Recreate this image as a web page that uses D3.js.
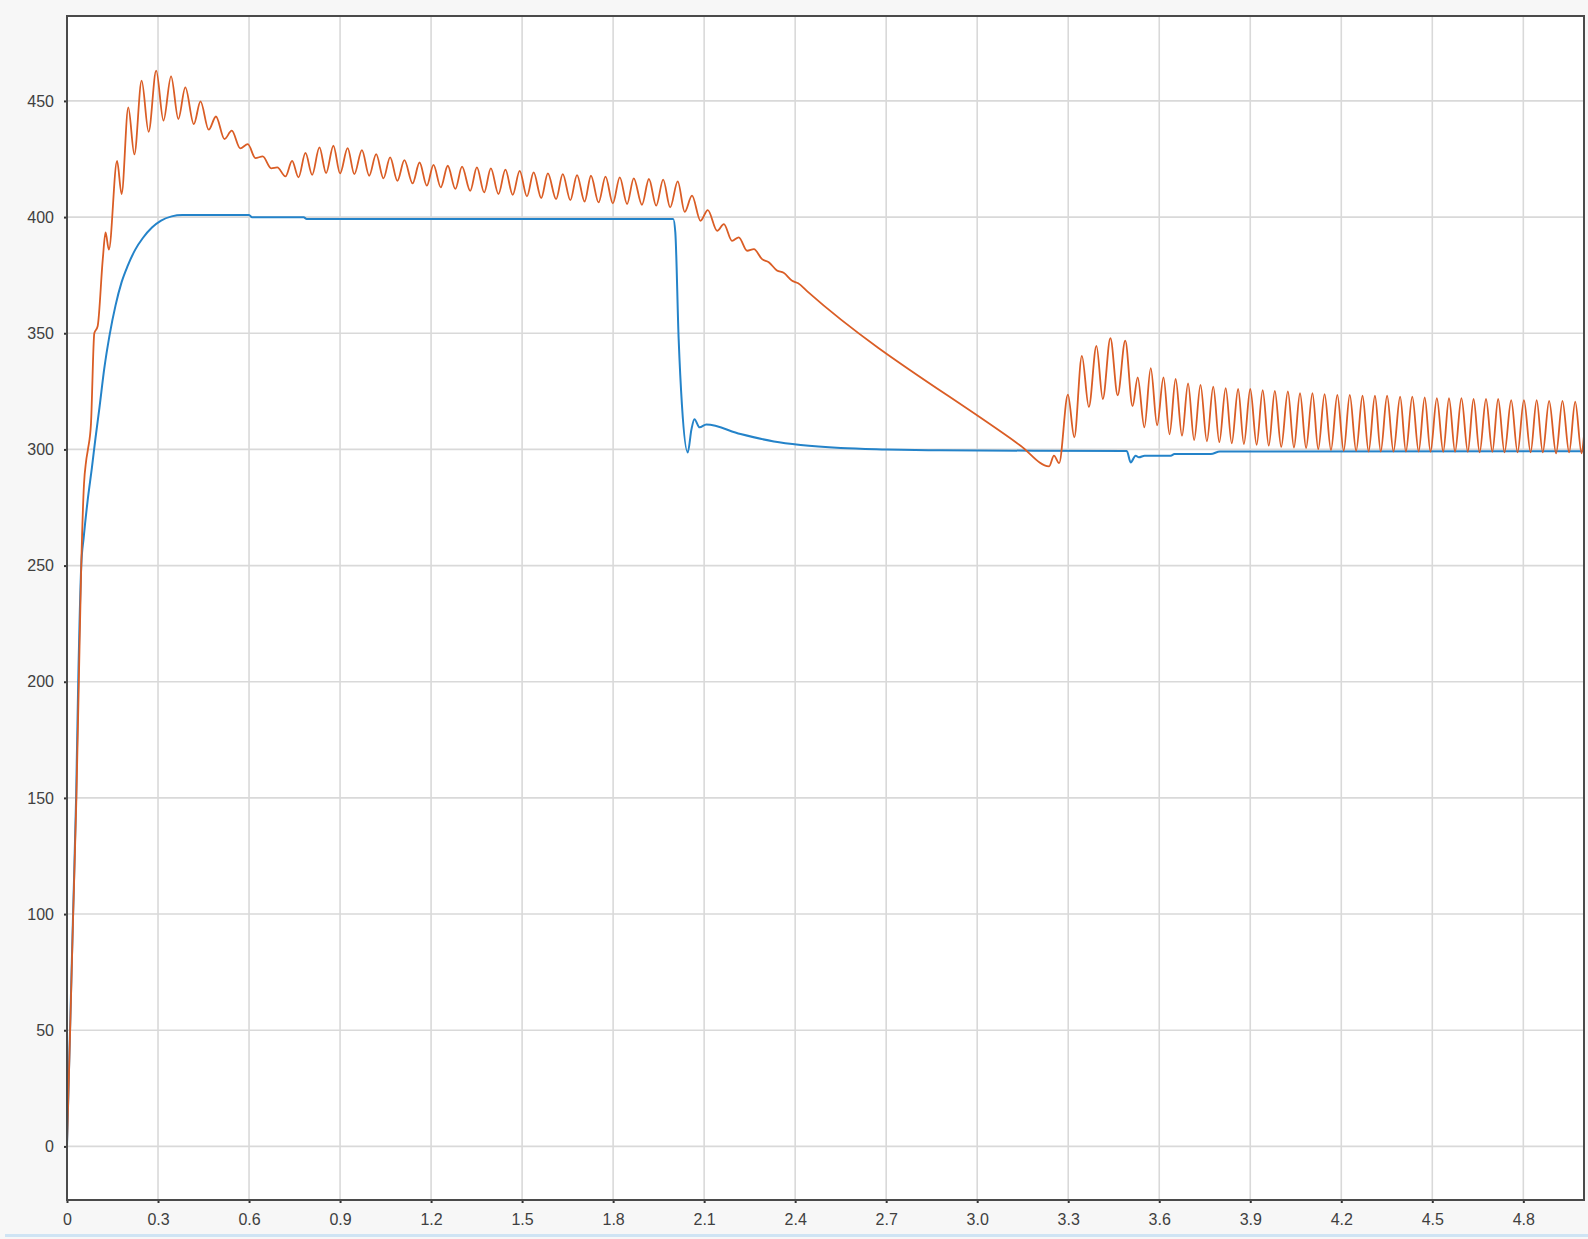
<!DOCTYPE html>
<html>
<head>
<meta charset="utf-8">
<script src="https://cdn.jsdelivr.net/npm/d3@7"></script>
<style>
  html, body { margin: 0; padding: 0; background: #f7f7f7; }
  svg { display: block; }
  text { font-family: "Liberation Sans", Arial, sans-serif; }
</style>
</head>
<body>
<svg id="chart" width="1588" height="1239"></svg>
<script>
// ---------- data ----------
const xTicks = [0, 0.3, 0.6, 0.9, 1.2, 1.5, 1.8, 2.1, 2.4, 2.7, 3.0, 3.3, 3.6, 3.9, 4.2, 4.5, 4.8];
const yTicks = [0, 50, 100, 150, 200, 250, 300, 350, 400, 450];

// blue series: [time, value]
const blueSeries = [
  [0,0],[0.010,50],[0.020,100],[0.030,150],[0.037,200],[0.047,250],[0.055,262],[0.068,278],
  [0.082,292],[0.094,305],[0.107,318],[0.123,335],[0.140,349],[0.160,362],[0.180,372],
  [0.200,379],[0.225,386],[0.250,391],[0.280,395.5],[0.310,398.5],[0.345,400.3],
  [0.380,400.9],[0.600,400.9],[0.610,399.9],[0.780,399.9],[0.790,399.2],
  [1.998,399.2],[2.005,393.4],[2.016,347.5],[2.027,318.8],[2.046,298.7],[2.058,308.5],
  [2.068,313],[2.085,309.5],[2.107,310.7],[2.220,306.6],[2.330,303.4],[2.418,301.9],
  [2.550,300.6],[2.700,300.0],[2.880,299.6],[3.493,299.3],[3.506,294.4],[3.522,297.3],
  [3.533,296.6],[3.552,297.3],[3.638,297.3],[3.650,298.0],[3.770,298.0],[3.800,299.1],
  [5.0,299.2]
];

// orange series: [time, value] (peaks / troughs / turning points)
const orangeRise = [
  [0,0],[0.010,48],[0.020,98],[0.031,150],[0.039,200],[0.047,250],[0.056,285],[0.063,295],
  [0.069,300],[0.079,311],[0.090,350],[0.101,353],[0.118,382],[0.127,393.4],[0.138,386],
  [0.165,424.2],[0.180,409.9],[0.202,447.2],[0.222,427],[0.246,458.7],[0.269,436.7],
  [0.294,463],[0.318,441.5],[0.343,460.6],[0.367,442.2],[0.390,455.8],[0.418,440],
  [0.440,449.8],[0.467,437.6],[0.491,443.3],[0.519,433.6],[0.543,437.2],[0.571,429.6],
  [0.596,431.4],[0.621,425.4],[0.645,426.1],[0.673,421],[0.693,421.4],[0.720,417.5],
  [0.742,424.2],[0.763,417.1],[0.786,427.6],[0.808,418.2],[0.832,430],[0.854,418.9]
];
const orangePlateau = [
  [0.878,430.7],[0.900,418.8],[0.925,429.7],[0.947,418.5],[0.972,428.8],[0.996,417.8],
  [1.019,427.1],[1.043,416.7],[1.065,425.7],[1.089,415.6],[1.112,424.5],[1.139,414.5],
  [1.162,423.5],[1.186,413.5],[1.208,422.5],[1.232,412.8],[1.255,422.1],[1.280,412.1],
  [1.302,421.7],[1.329,411.3],[1.351,421.4],[1.375,410.6],[1.397,421.0],[1.422,409.9],
  [1.445,420.4],[1.469,409.6],[1.492,419.9],[1.516,408.9],[1.538,419.2],[1.563,408.2],
  [1.585,418.8],[1.612,407.7],[1.634,418.5],[1.659,407.3],[1.681,418.1],[1.706,406.7],
  [1.727,417.8],[1.752,406.3],[1.775,417.4],[1.799,405.9],[1.822,417.1],[1.846,405.6],
  [1.868,416.7],[1.895,405.3],[1.918,416.4],[1.942,404.9],[1.965,416.1],[1.988,404.2],
  [2.013,415.4]
];
const orangeFall = [
  [2.036,402.2],[2.060,409.2],[2.088,398.4],[2.112,403.0],[2.143,394.1],[2.165,397.0],
  [2.192,389.8],[2.214,391.3],[2.242,385.5],[2.264,386.2],[2.291,381.9],[2.313,380.6],
  [2.340,377.0],[2.362,376.0],[2.390,372.6],[2.410,371.5],[2.440,368.0],
  [3.143,301.6],[3.237,292.7],[3.253,297.3],[3.270,294.1]
];
const orangeTail = [
  [3.299,323.6],[3.320,305.2],[3.345,340.3],[3.368,318.3],[3.393,344.6],[3.414,321.7],
  [3.439,347.9],[3.463,323.3],[3.488,346.8],[3.512,318.6],[3.529,331.0],[3.551,309.5],
  [3.572,335.0],[3.593,310.4],[3.614,331.0],[3.634,306.5],[3.654,330.3],[3.675,305.9],
  [3.695,328.4],[3.715,304.0],[3.736,327.8],[3.757,303.5],[3.778,327.0],[3.798,303.1],
  [3.819,326.4],[3.839,302.6],[3.860,326.0],[3.879,302.3],[3.900,326.0],[3.921,302.0],
  [3.941,325.5],[3.961,301.6],[3.981,325.2],[4.002,301.1],[4.024,325.0],[4.044,300.8],
  [4.064,324.2],[4.084,300.6],[4.105,324.2],[4.124,300.1],[4.145,323.8],[4.166,299.7],
  [4.187,323.5],[4.208,299.4],[4.228,323.5],[4.249,299.4],[4.270,323.1],[4.290,299.1],
  [4.311,323.1],[4.330,299.1],[4.351,323.1],[4.372,299.1],[4.394,322.7],[4.413,299.1],
  [4.434,322.7],[4.455,299.1],[4.475,322.4],[4.494,299.0],[4.515,322.1],[4.536,299.0],
  [4.555,322.1],[4.575,299.0],[4.596,322.1],[4.617,299.0],[4.636,321.7],[4.656,298.7],
  [4.677,321.7],[4.698,299.0],[4.717,321.7],[4.738,298.7],[4.760,321.2],[4.781,298.7],
  [4.802,321.2],[4.824,298.7],[4.844,321.2],[4.864,298.7],[4.885,320.9],[4.908,298.3],
  [4.929,320.9],[4.951,298.7],[4.971,320.6],[4.992,298.3],[5.0,306]
];
const orangeSeries = orangeRise.concat(orangePlateau, orangeFall, orangeTail);

// ---------- drawing ----------
const W = 1588, H = 1239;
const plot = { left: 67, top: 16, right: 1584, bottom: 1200 };

const x = d3.scaleLinear().domain([0, 5]).range([plot.left, plot.right]);
const y = d3.scaleLinear().domain([0, 450]).range([1146.4, 1146.4 - 450 * 2.3233]);

const svg = d3.select("#chart");

svg.append("rect").attr("x", 0).attr("y", 0).attr("width", W).attr("height", H).attr("fill", "#f7f7f7");
svg.append("rect").attr("x", 5).attr("y", 1234).attr("width", W - 5).attr("height", 3).attr("fill", "#cfe4f4");

svg.append("rect")
  .attr("x", plot.left).attr("y", plot.top)
  .attr("width", plot.right - plot.left).attr("height", plot.bottom - plot.top)
  .attr("fill", "#ffffff");

svg.append("clipPath").attr("id", "clip")
  .append("rect")
  .attr("x", plot.left).attr("y", plot.top)
  .attr("width", plot.right - plot.left).attr("height", plot.bottom - plot.top);

// grid
const grid = svg.append("g").attr("class", "grid");
grid.selectAll("line.vx").data(xTicks.filter(d => d > 0)).enter().append("line")
  .attr("x1", d => x(d)).attr("x2", d => x(d))
  .attr("y1", plot.top).attr("y2", plot.bottom)
  .attr("stroke", "#d9d9d9").attr("stroke-width", 1.6);
grid.selectAll("line.hy").data(yTicks).enter().append("line")
  .attr("x1", plot.left).attr("x2", plot.right)
  .attr("y1", d => y(d)).attr("y2", d => y(d))
  .attr("stroke", "#d9d9d9").attr("stroke-width", 1.6);

// lines
const line = d3.line().x(d => x(d[0])).y(d => y(d[1])).curve(d3.curveMonotoneX);
const lines = svg.append("g").attr("clip-path", "url(#clip)");
lines.append("path").datum(blueSeries)
  .attr("d", line).attr("fill", "none")
  .attr("stroke", "#2483c9").attr("stroke-width", 2).attr("stroke-linejoin", "round");
lines.append("path").datum(orangeSeries)
  .attr("d", line).attr("fill", "none")
  .attr("stroke", "#da5d25").attr("stroke-width", 1.8).attr("stroke-linejoin", "round");

// axes
const xAxis = d3.axisBottom(x).tickValues(xTicks).tickSize(3).tickPadding(11)
  .tickFormat(d => d === 0 ? "0" : d3.format(".1f")(d));
const yAxis = d3.axisLeft(y).tickValues(yTicks).tickSize(3).tickPadding(10)
  .tickFormat(d3.format("d"));

const gx = svg.append("g").attr("transform", `translate(0,${plot.bottom})`).call(xAxis);
const gy = svg.append("g").attr("transform", `translate(${plot.left},0)`).call(yAxis);
[gx, gy].forEach(g => {
  g.select(".domain").remove();
  g.selectAll(".tick line").attr("stroke", "#333").attr("stroke-width", 2);
  g.selectAll(".tick text").attr("fill", "#404040").style("font-size", "16px");
});

// frame
svg.append("rect")
  .attr("x", plot.left).attr("y", plot.top)
  .attr("width", plot.right - plot.left).attr("height", plot.bottom - plot.top)
  .attr("fill", "none").attr("stroke", "#4a4a4a").attr("stroke-width", 2);
</script>
</body>
</html>
